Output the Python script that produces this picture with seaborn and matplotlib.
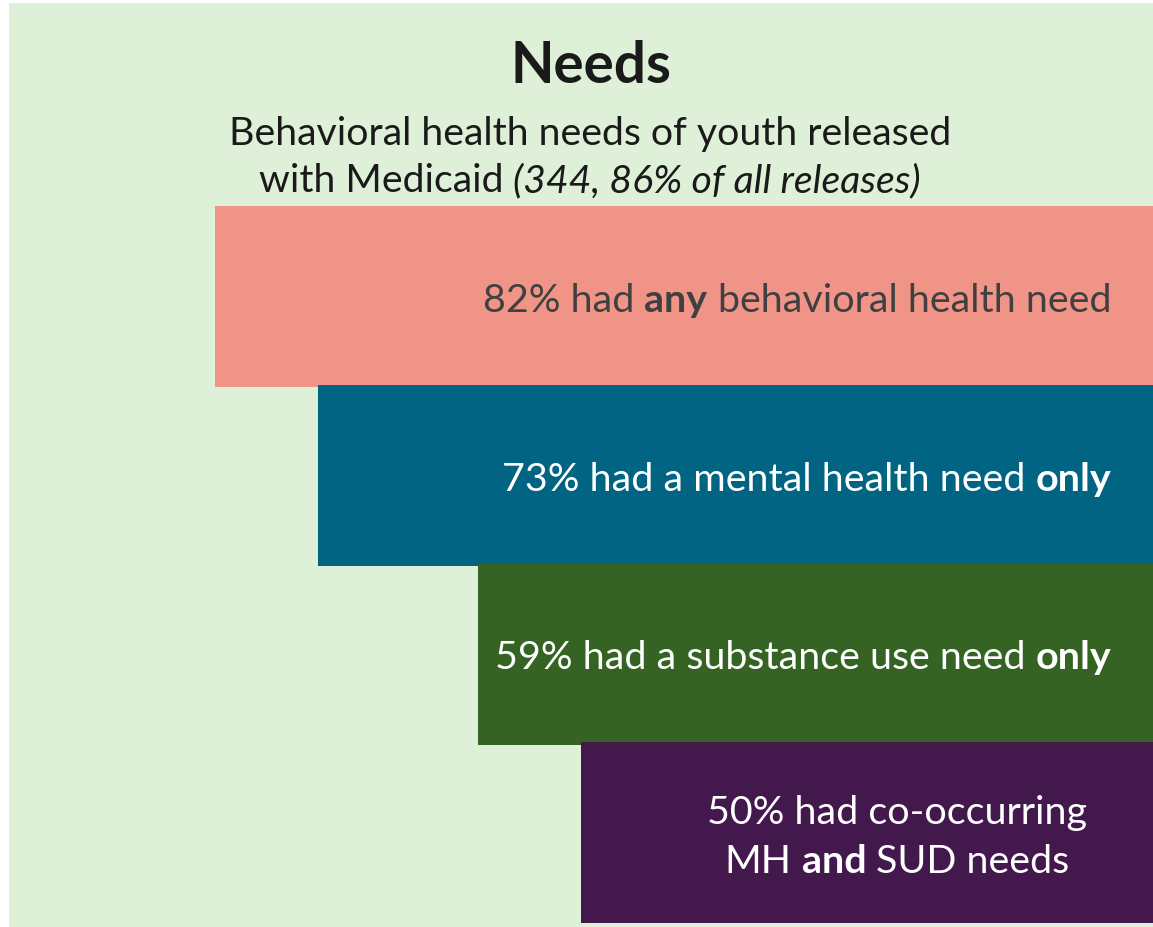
import re
import matplotlib
matplotlib.use("Agg")
import matplotlib.pyplot as plt
from matplotlib.transforms import IdentityTransform
import numpy as np
import pandas as pd
import seaborn as sns

# ---------------- data ----------------
title = "Needs"
subtitle_lines = [
    "Behavioral health needs of youth released",
    "with Medicaid __(344, 86% of all releases)__",
]
categories = ["Any need", "Mental health only", "Substance use only", "Co-occurring"]
values = [82, 73, 59, 50]
labels = [
    ["82% had **any** behavioral health need"],
    ["73% had a mental health need **only**"],
    ["59% had a substance use need **only**"],
    ["50% had co-occurring", "MH **and** SUD needs"],
]
bar_colors = ["#F09488", "#006482", "#356324", "#43194D"]
label_colors = ["#404040", "#FFFFFF", "#FFFFFF", "#FFFFFF"]

FONT = "Lato"
W, H = 1153, 928

sns.set_style("white")
plt.rcParams["font.family"] = [FONT, "DejaVu Sans"]

fig = plt.figure(figsize=(W / 100, H / 100), dpi=100, facecolor="white")
ax = fig.add_axes([9 / W, 0, (W - 9) / W, 924 / H])
ax.set_facecolor("#DFF0D9")

df = pd.DataFrame({"category": categories, "value": values})
sns.barplot(data=df, x="value", y="category", hue="category", palette=bar_colors,
            orient="h", width=1.013, saturation=1, legend=False, linewidth=0, ax=ax)
ax.set_xlim(100, 0)
ax.set_ylim(3.527, -1.645)
for s in ax.spines.values():
    s.set_visible(False)
ax.set_xticks([])
ax.set_yticks([])
ax.set_xlabel("")
ax.set_ylabel("")

renderer = fig.canvas.get_renderer()


def parse(line):
    runs = []
    bold = False
    ital = False
    for part in re.split(r"(\*\*|__)", line):
        if part == "**":
            bold = not bold
        elif part == "__":
            ital = not ital
        elif part:
            runs.append((part, bold, ital))
    return runs


def text_w(s, size, bold=False, ital=False):
    t = fig.text(0, 0, s, fontsize=size, fontweight="bold" if bold else "normal",
                 fontstyle="italic" if ital else "normal")
    w = t.get_window_extent(renderer=renderer).width
    t.remove()
    return w


def space_w(size, bold, ital):
    return text_w("a a", size, bold, ital) - text_w("aa", size, bold, ital)


def layout(line, size):
    items = []
    x = 0.0
    for txt, b, i in parse(line):
        lead = len(txt) - len(txt.lstrip(" "))
        trail = len(txt) - len(txt.rstrip(" "))
        core = txt.strip(" ")
        x += lead * space_w(size, b, i)
        if core:
            items.append((x, core, b, i))
            x += text_w(core, size, b, i)
        x += trail * space_w(size, b, i)
    return items, x


def draw_line(line, size, x_anchor, y_img, ha, color):
    items, total = layout(line, size)
    if ha == "center":
        x0 = x_anchor - total / 2
    elif ha == "right":
        x0 = x_anchor - total
    else:
        x0 = x_anchor
    for dx, core, b, i in items:
        fig.text(x0 + dx, H - y_img, core, transform=IdentityTransform(),
                 fontsize=size, fontweight="bold" if b else "normal",
                 fontstyle="italic" if i else "normal", color=color,
                 ha="left", va="baseline")


# font sizes fitted to the reference widths
size_title = 40 * 161 / text_w(title, 40, bold=True)
size_sub = 20 * 724 / layout(subtitle_lines[0], 20)[1]
size_bar = 20 * 630 / layout(labels[0][0], 20)[1]

# title and subtitle
draw_line("**" + title + "**", size_title, 591, 83, "center", "#1A1A1A")
for k, line in enumerate(subtitle_lines):
    draw_line(line, size_sub, 590, 145 + k * 47, "center", "#1A1A1A")

# bar labels
cap = 0.72 * size_bar * 100 / 72
line_gap = 49
for i, lines in enumerate(labels):
    cy = H - ax.transData.transform((0, i))[1]
    n = len(lines)
    for k, line in enumerate(lines):
        base = cy + (k - (n - 1) / 2) * line_gap + cap / 2
        if n == 1:
            draw_line(line, size_bar, 1111, base, "right", label_colors[i])
        else:
            draw_line(line, size_bar, 897, base, "center", label_colors[i])

fig.savefig("out.png", dpi=100, facecolor="white")
